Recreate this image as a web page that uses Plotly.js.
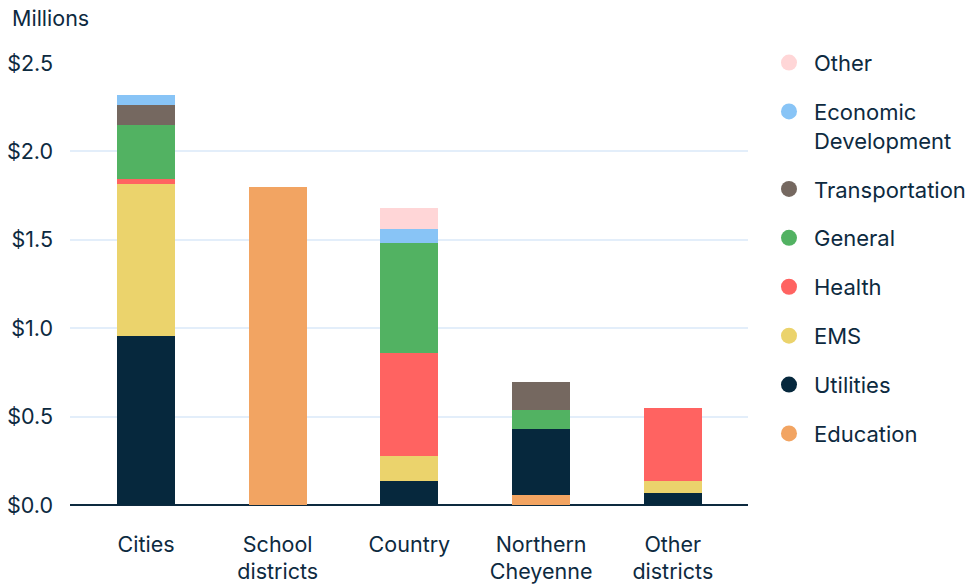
<!DOCTYPE html>
<html>
<head>
<meta charset="utf-8">
<script src="https://cdn.plot.ly/plotly-3.0.1.min.js"></script>
<style>html,body{margin:0;padding:0;background:#fff;}#chart{width:972px;height:588px;}</style>
</head>
<body>
<div id="chart"></div>
<script>
var categories = ["Cities", "School<br>districts", "Country", "Northern<br>Cheyenne", "Other<br>districts"];
var education      = [0,     1.80, 0,     0.057, 0];
var utilities      = [0.956, 0,    0.136, 0.373, 0.068];
var ems            = [0.860, 0,    0.141, 0,     0.068];
var health         = [0.028, 0,    0.583, 0,     0.413];
var general        = [0.305, 0,    0.622, 0.107, 0];
var transportation = [0.113, 0,    0,     0.159, 0];
var econDev        = [0.058, 0,    0.079, 0,     0];
var other          = [0,     0,    0.119, 0,     0];
var yTickVals   = [0, 0.5, 1, 1.5, 2, 2.5];
var yTickLabels = ["$0.0", "$0.5", "$1.0", "$1.5", "$2.0", "$2.5"];

var series = [
  {name: "Education", values: education, color: "#F2A462"},
  {name: "Utilities", values: utilities, color: "#06283D"},
  {name: "EMS", values: ems, color: "#EBD36C"},
  {name: "Health", values: health, color: "#FF6361"},
  {name: "General", values: general, color: "#52B262"},
  {name: "Transportation", values: transportation, color: "#756860"},
  {name: "Economic<br>Development", values: econDev, color: "#88C4F6"},
  {name: "Other", values: other, color: "#FFD6D7"}
];

var textColor = "#0D2A3F";
var traces = [];
series.forEach(function (s) {
  traces.push({
    type: "bar", x: categories, y: s.values, name: s.name,
    marker: {color: s.color, line: {width: 0}}, width: 0.44,
    showlegend: false, hoverinfo: "x+y+name"
  });
});
series.slice().reverse().forEach(function (s, i) {
  traces.push({
    type: "scatter", mode: "markers", x: [null], y: [null], name: s.name,
    legendgroup: "g" + i,
    marker: {color: s.color, size: 18, symbol: "circle"},
    showlegend: true, hoverinfo: "skip"
  });
});

var layout = {
  width: 972, height: 588,
  barmode: "stack",
  paper_bgcolor: "#fff", plot_bgcolor: "#fff",
  font: {family: "Inter, 'Noto Sans', sans-serif", size: 21.5, color: textColor},
  margin: {l: 70, r: 224, t: 63, b: 83},
  xaxis: {
    type: "category", range: [-0.577, 4.571],
    showgrid: false, zeroline: false, showline: false,
    ticks: "", ticklabelstandoff: 24,
    tickfont: {size: 21.5, color: textColor}
  },
  yaxis: {
    range: [0, 2.5], tickmode: "array", tickvals: yTickVals, ticktext: yTickLabels,
    showgrid: true, gridcolor: "#E3EEFA", gridwidth: 2,
    zeroline: true, zerolinecolor: "#0D2A3F", zerolinewidth: 2,
    showline: false, ticks: "", ticklabelstandoff: 16,
    tickfont: {size: 21.5, color: textColor}
  },
  legend: {
    xref: "container", yref: "container",
    x: 0.786, y: 0.929, xanchor: "left", yanchor: "top",
    traceorder: "grouped", tracegroupgap: 17.3, valign: "top",
    font: {size: 22, color: textColor}, itemwidth: 40,
    maxheight: 560,
    bgcolor: "rgba(0,0,0,0)"
  },
  annotations: [{
    text: "Millions", xref: "paper", yref: "paper",
    x: -0.0885, y: 1.102, xanchor: "left", yanchor: "middle",
    showarrow: false, font: {size: 21.5, color: textColor}
  }]
};

Plotly.newPlot("chart", traces, layout, {displayModeBar: false, staticPlot: true});
</script>
</body>
</html>
